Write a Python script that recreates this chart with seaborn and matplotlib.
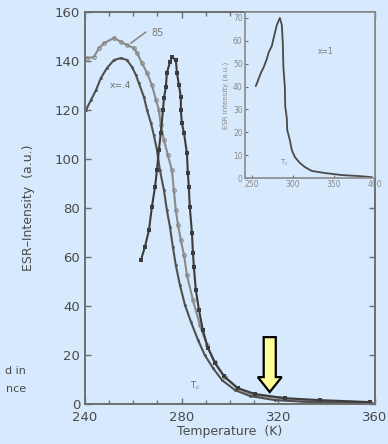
import numpy as np
import matplotlib
matplotlib.use('Agg')
import matplotlib.pyplot as plt
import seaborn as sns
from matplotlib.patches import FancyArrow

# ---- data ----
temp_a = [240.8, 243.7, 245.8, 247.9, 252.0, 254.9, 257.4, 260.3, 261.5, 263.6, 265.7, 267.7,
          269.4, 270.6, 271.4, 272.7, 274.3, 276.0, 276.8, 277.6, 278.5, 279.7, 281.0, 282.2,
          284.7, 287.6, 290.5, 293.8, 297.9, 302.9, 309.5, 320.7, 334.3, 357.9]
esr_a = [141.2, 141.6, 145.3, 147.3, 149.4, 147.8, 146.5, 145.3, 143.3, 139.2, 135.1, 130.2,
         124.1, 120.0, 113.9, 107.8, 101.6, 95.5, 87.3, 79.2, 73.1, 66.9, 60.8, 52.7,
         42.4, 32.2, 24.1, 17.1, 11.0, 6.5, 3.7, 2.4, 1.2, 0.4]

temp_b = [240.4, 242.5, 244.6, 246.6, 249.1, 252.0, 254.9, 257.4, 259.4, 261.1, 262.3, 264.4,
          265.7, 267.3, 268.5, 269.8, 271.0, 272.7, 273.9, 275.2, 276.4, 277.6, 279.3, 281.4,
          283.9, 286.8, 289.6, 293.0, 296.7, 302.1, 308.3, 318.6, 333.1, 358.7]
esr_b = [120.0, 124.1, 128.2, 133.1, 137.1, 140.4, 141.2, 140.4, 137.6, 134.3, 131.0, 125.3,
         120.0, 114.7, 109.8, 103.7, 95.5, 87.3, 79.2, 72.2, 64.1, 56.7, 48.6, 40.4,
         33.5, 26.1, 20.0, 14.7, 9.8, 5.7, 3.3, 1.6, 0.8, 0.4]

temp_c = [263.2, 264.8, 266.5, 267.7, 269.0, 269.8, 270.6, 271.4, 272.3, 272.7, 273.5, 273.9,
          275.2, 276.0, 277.6, 278.1, 278.9, 279.7, 279.7, 280.1, 281.0, 282.2, 282.6, 283.0,
          283.4, 284.3, 284.7, 285.1, 285.9, 287.2, 288.8, 290.9, 293.8, 297.5, 303.3, 310.3,
          322.7, 337.2, 357.9]
esr_c = [58.8, 64.1, 71.0, 80.4, 88.6, 95.5, 103.7, 110.6, 120.0, 124.9, 129.4, 135.1,
         139.6, 141.6, 140.4, 135.1, 130.2, 125.3, 120.0, 114.7, 110.6, 102.4, 94.3, 88.6,
         80.4, 69.8, 61.6, 55.9, 46.5, 38.4, 30.2, 22.9, 16.7, 11.4, 6.5, 4.1,
         2.4, 1.6, 0.8]

temp_inset = [254.9, 261.0, 264.7, 268.3, 270.8, 274.4, 278.1, 280.5, 284.2, 286.6, 287.8,
              288.5, 290.3, 290.8, 292.7, 293.2, 296.4, 298.8, 302.5, 308.6, 314.7, 323.2,
              339.1, 359.8, 379.3, 396.4]
esr_inset = [40.2, 45.9, 48.6, 52.1, 55.1, 57.7, 63.4, 66.9, 70.0, 66.9, 59.1,
             48.6, 39.8, 31.1, 26.2, 21.0, 16.6, 12.2, 9.2, 6.6, 4.8, 3.1,
             2.2, 1.3, 0.9, 0.4]

x_ticks = [240, 280, 320, 360]
y_ticks = [0, 20, 40, 60, 80, 100, 120, 140, 160]
inset_x_ticks = [250, 300, 350, 400]
inset_y_ticks = [0, 10, 20, 30, 40, 50, 60, 70]

# ---- style ----
sns.set_theme(style='ticks')
plt.rcParams['font.family'] = ['DejaVu Sans']
BG = '#d6e9fd'
SPINE = '#6e6e6e'
TXT = '#4a4a4a'

fig = plt.figure(figsize=(3.88, 4.44), dpi=100, facecolor=BG)
ax = fig.add_axes([0.219, 0.090, 0.747, 0.883], facecolor=BG)

sns.lineplot(x=temp_a, y=esr_a, ax=ax, sort=False, estimator=None, color='#8a8a8a',
             lw=1.5, marker='o', markersize=2.6, markerfacecolor='none',
             markeredgecolor='#8a8a8a', markeredgewidth=0.8)
sns.lineplot(x=temp_b, y=esr_b, ax=ax, sort=False, estimator=None, color='#505050',
             lw=1.5, marker='o', markersize=2.0, markeredgewidth=0)
sns.lineplot(x=temp_c, y=esr_c, ax=ax, sort=False, estimator=None, color='#3c3c3c',
             lw=1.5, marker='s', markersize=2.6, markeredgewidth=0)

# leader line and curve labels
ax.plot([259.0, 265.2], [147.3, 151.8], color='#8a8a8a', lw=1.2)
ax.text(267.5, 151.5, '85', fontsize=7, color='#7a7a7a', va='center', ha='left')
ax.text(254.5, 129.8, 'x=.4', fontsize=6.5, color='#707070', va='center', ha='center')
ax.text(285.5, 7.5, 'T$_c$', fontsize=6, color='#6a6a6a', va='center', ha='center')

ax.set_xlim(240, 360)
ax.set_ylim(0, 160)
ax.set_xticks(x_ticks)
ax.set_xticks(np.arange(240, 361, 10), minor=True)
ax.set_yticks(y_ticks)
ax.tick_params(which='both', direction='in', top=True, right=True, colors=SPINE,
               labelcolor=TXT, width=1.0)
ax.tick_params(which='major', length=4, labelsize=9.5)
ax.tick_params(which='minor', length=3)
ax.tick_params(axis='x', which='major', pad=5)
for s in ax.spines.values():
    s.set_color(SPINE)
    s.set_linewidth(1.4)
ax.set_xlabel('Temperature  (K)', fontsize=9, color=TXT, labelpad=1)
ax.set_ylabel('ESR\u2013Intensity  (a.u.)', fontsize=9, color=TXT, labelpad=14)

# yellow arrow
ax.add_patch(FancyArrow(316.5, 27.3, 0, -22.4, width=5.0, head_width=9.9, head_length=6.1,
                        length_includes_head=True, facecolor='#ffff99', edgecolor='black',
                        lw=1.6, zorder=5))

# partial text from neighbouring panel
fig.text(0.067, 1 - 371 / 444, 'd in', fontsize=8, color=TXT, ha='right', va='center')
fig.text(0.067, 1 - 389 / 444, 'nce', fontsize=8, color=TXT, ha='right', va='center')

# ---- inset ----
ins = fig.add_axes([0.631, 0.599, 0.335, 0.374], facecolor=BG)
sns.lineplot(x=temp_inset, y=esr_inset, ax=ins, sort=False, estimator=None,
             color='#4a4a4a', lw=1.3)
ins.set_xlim(241.5, 400)
ins.set_ylim(0, 72.6)
ins.set_xticks(inset_x_ticks)
ins.set_yticks(inset_y_ticks)
ins.tick_params(direction='in', length=2.5, width=0.8, colors=SPINE, labelcolor='#8a8a8a',
                labelsize=5.5, pad=1.5)
for s in ins.spines.values():
    s.set_color('#8a8a8a')
    s.set_linewidth(1.2)
ins.set_ylabel('ESR intensity (a.u.)', fontsize=5, color='#8a8a8a', labelpad=3)
ins.text(340, 55.5, 'x=1', fontsize=5.5, color='#7a7a7a', ha='center', va='center')
ins.text(290, 6.5, 'T$_c$', fontsize=5, color='#8a8a8a', ha='center', va='center')

fig.savefig('out.png', dpi=100, facecolor=BG)
